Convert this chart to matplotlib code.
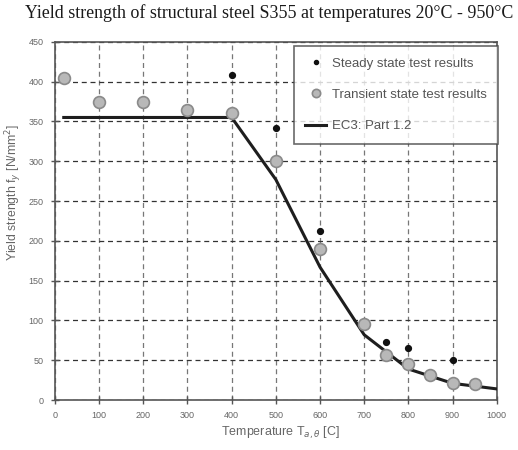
import matplotlib
matplotlib.use("Agg")
import matplotlib.pyplot as plt

steady_T = [400, 500, 600, 750, 800, 900]
steady_fy = [408, 342, 212, 73, 65, 50]

trans_T = [20, 100, 200, 300, 400, 500, 600, 700, 750, 800, 850, 900, 950]
trans_fy = [405, 375, 375, 365, 360, 300, 190, 95, 57, 45, 32, 22, 20]

ec3_T = [20, 400, 500, 600, 700, 800, 900, 1000]
ec3_fy = [355, 355, 277, 167, 82, 39, 21, 14]

xticks = list(range(0, 1001, 100))
yticks = list(range(0, 451, 50))

plt.rcParams['font.family'] = ['Liberation Sans', 'DejaVu Sans']

fig = plt.figure(figsize=(5.18, 4.5), dpi=100)
ax = fig.add_axes([0.106, 0.111, 0.853, 0.796])

ax.plot(ec3_T, ec3_fy, color='#1e1e1e', lw=2.2, zorder=3, label='EC3: Part 1.2')
ax.plot(trans_T, trans_fy, 'o', ms=8.5, mfc='#b8b8b8', mec='#8a8a8a', mew=1.2,
        zorder=4, label='Transient state test results')
ax.plot(steady_T, steady_fy, 'o', ms=4.2, color='#111111', zorder=5,
        label='Steady state test results')

ax.set_xlim(0, 1000)
ax.set_ylim(0, 450)
ax.set_xticks(xticks)
ax.set_yticks(yticks)
ax.grid(True, axis='y', ls=(0, (4, 3)), color='#333333', lw=0.9)
ax.grid(True, axis='x', ls=(0, (4, 3)), color='#777777', lw=0.9)
ax.tick_params(direction='inout', length=6, labelsize=6.5, colors='#555555',
               labelcolor='#666666', width=1, pad=5)
for s in ax.spines.values():
    s.set_color('#555555')
    s.set_linewidth(1.2)

ax.set_xlabel(r'Temperature T$_{a,\theta}$ [C]', fontsize=9, color='#666666')
ax.xaxis.set_label_coords(0.51, -0.068)
ax.set_ylabel(r'Yield strength f$_y$ [N/mm$^2$]', fontsize=8.8, color='#666666')
ax.yaxis.set_label_coords(-0.07, 0.58)

handles, labels = ax.get_legend_handles_labels()
order = [2, 1, 0]
leg = ax.legend([handles[i] for i in order], [labels[i] for i in order],
                loc='upper right', fontsize=9.5, frameon=True, fancybox=False,
                edgecolor='#444444', borderpad=0.85, labelspacing=1.45,
                handlelength=1.6, handletextpad=0.4, borderaxespad=0,
                bbox_to_anchor=(1.002, 0.988), markerscale=0.7)
leg.get_frame().set_linewidth(1.2)
for t in leg.get_texts():
    t.set_color('#555555')

fig.suptitle('Yield strength of structural steel S355 at temperatures 20\u00b0C - 950\u00b0C',
             fontsize=12.9, family=['Liberation Serif', 'DejaVu Serif'], x=0.52, y=0.99,
             color='#1a1a1a')

fig.savefig('out.png', dpi=100)
